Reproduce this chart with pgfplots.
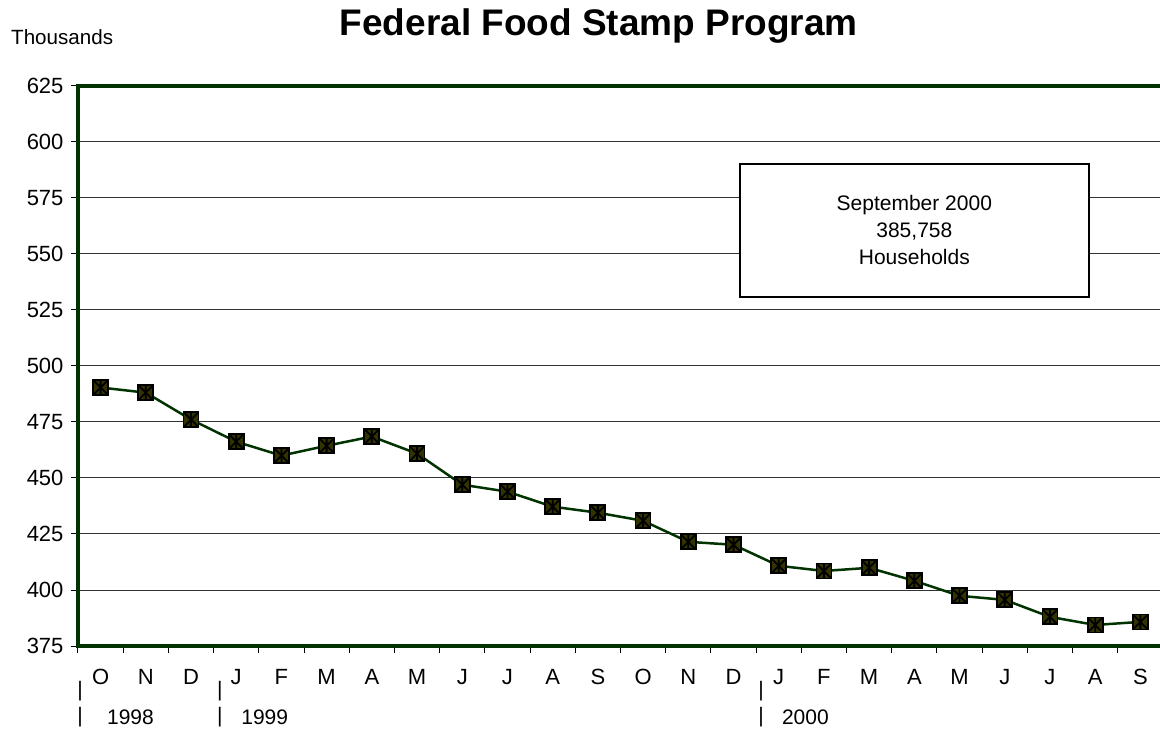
\documentclass[border=0pt]{standalone}
\usepackage{pgfplots}
\pgfplotsset{compat=1.18}
\usepackage{fontspec}
\setmainfont{Liberation Sans}
\definecolor{frame}{HTML}{003300}
\definecolor{mk}{HTML}{333300}
\newcommand\fs{\fontsize{21pt}{27pt}\selectfont}
\newcommand\ts{\fontsize{22pt}{27pt}\selectfont}
\pgfdeclareplotmark{fsq}{%
  \pgfpathrectangle{\pgfqpoint{-\pgfplotmarksize}{-\pgfplotmarksize}}{\pgfqpoint{2\pgfplotmarksize}{2\pgfplotmarksize}}%
  \pgfusepathqfillstroke
  \pgfpathmoveto{\pgfqpoint{-\pgfplotmarksize}{-\pgfplotmarksize}}%
  \pgfpathlineto{\pgfqpoint{\pgfplotmarksize}{\pgfplotmarksize}}%
  \pgfpathmoveto{\pgfqpoint{-\pgfplotmarksize}{\pgfplotmarksize}}%
  \pgfpathlineto{\pgfqpoint{\pgfplotmarksize}{-\pgfplotmarksize}}%
  \pgfpathmoveto{\pgfqpoint{0pt}{-\pgfplotmarksize}}%
  \pgfpathlineto{\pgfqpoint{0pt}{\pgfplotmarksize}}%
  \pgfusepathqstroke
}
\begin{document}
\begin{tikzpicture}
\useasboundingbox (-78pt,-85pt) rectangle (1082pt,646pt);
\begin{axis}[
  at={(0,0)}, anchor=south west,
  scale only axis, width=1085pt, height=560pt,
  xmin=0, xmax=24, ymin=375, ymax=625,
  ytick={375,400,...,625},
  xtick={0.5,1.5,...,23.5},
  xticklabels={O,N,D,J,F,M,A,M,J,J,A,S,O,N,D,J,F,M,A,M,J,J,A,S},
  minor xtick={0,1,...,24},
  major x tick style={draw=none},
  xtick pos=bottom, ytick pos=left,
  tick align=outside,
  major tick length=7pt, minor tick length=7pt,
  tick style={black, line width=1pt},
  ymajorgrids, grid style={line width=1pt, color=black!80},
  axis line style={line width=4.5pt, color=frame},
  ticklabel style={font=\ts},
  /pgf/number format/assume math mode=true,
  xticklabel style={yshift=-13pt, text height=15pt, text depth=0pt},
  yticklabel style={xshift=-4pt},
  clip=false,
]
\addplot[color=frame, line width=2.5pt, mark=fsq, mark size=7.5pt,
  mark options={solid, fill=mk, draw=black, line width=1.8pt}]
coordinates {
(0.5,490.4) (1.5,488.1) (2.5,476.1) (3.5,466.2) (4.5,460.0) (5.5,464.4)
(6.5,468.5) (7.5,460.9) (8.5,447.0) (9.5,443.9) (10.5,437.2) (11.5,434.5)
(12.5,430.9) (13.5,421.5) (14.5,420.2) (15.5,410.8) (16.5,408.5) (17.5,409.9)
(18.5,404.1) (19.5,397.4) (20.5,395.6) (21.5,388.0) (22.5,384.4) (23.5,385.758)
};
\draw[black, line width=1.5pt, fill=white] (axis cs:14.64,590.2) rectangle (axis cs:22.36,530.8);
\node[font=\fs, align=center] at (axis cs:18.5,560.7) {September 2000\\385,758\\Households};
\node[font=\bfseries\fontsize{37pt}{40pt}\selectfont, anchor=base] at (axis cs:11.52,625) [yshift=50pt] {Federal Food Stamp Program};
\node[font=\fontsize{20.6pt}{24pt}\selectfont, anchor=base west, inner sep=0pt] at (axis cs:0,625) [xshift=-67pt, yshift=41pt] {Thousands};
\node[font=\fs] at (axis cs:0.044,375) [yshift=-45pt] {|};
\node[font=\fs] at (axis cs:0.044,375) [yshift=-71pt] {|};
\node[font=\fs] at (axis cs:3.14,375) [yshift=-45pt] {|};
\node[font=\fs] at (axis cs:3.14,375) [yshift=-71pt] {|};
\node[font=\fs] at (axis cs:15.11,375) [yshift=-45pt] {|};
\node[font=\fs] at (axis cs:15.11,375) [yshift=-71pt] {|};
\node[font=\fs] at (axis cs:1.16,375) [yshift=-71pt] {1998};
\node[font=\fs] at (axis cs:4.13,375) [yshift=-71pt] {1999};
\node[font=\fs] at (axis cs:16.09,375) [yshift=-71pt] {2000};
\end{axis}
\end{tikzpicture}
\end{document}
